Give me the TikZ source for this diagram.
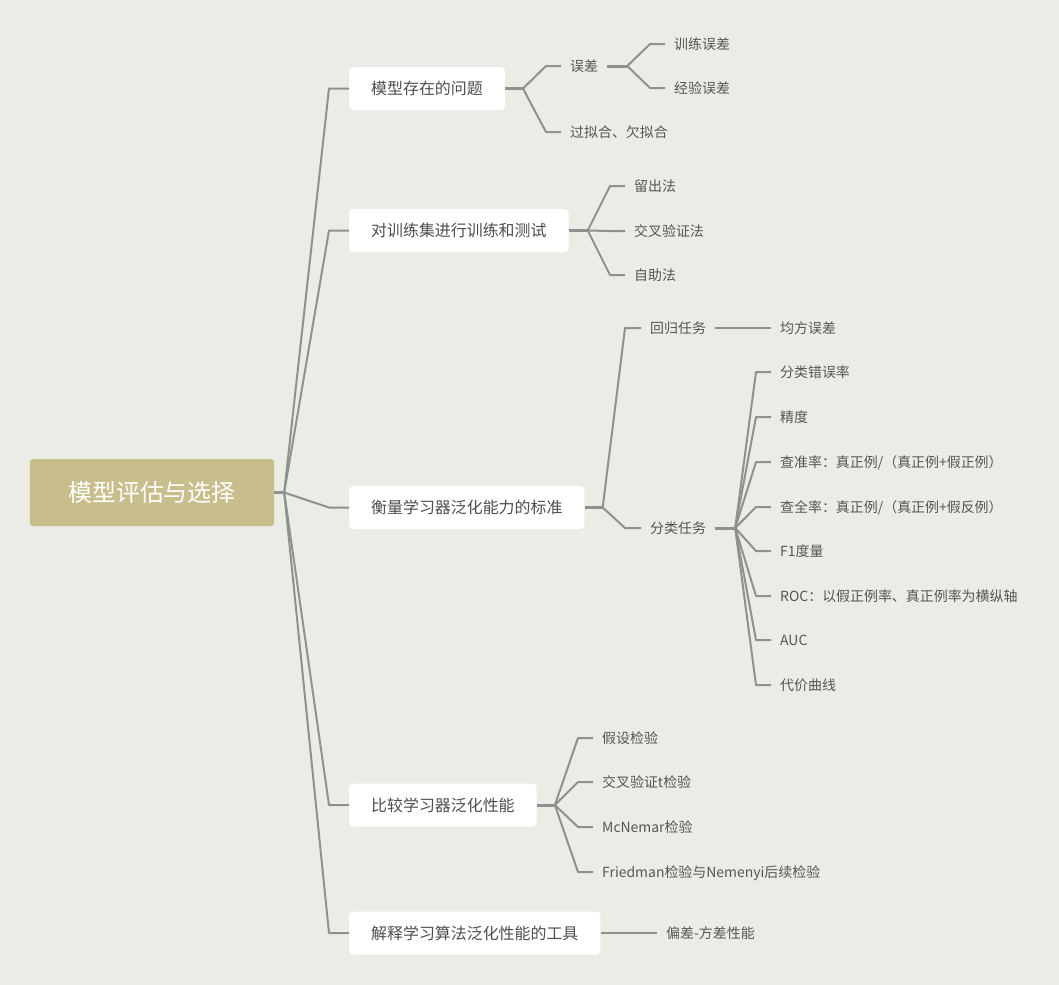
\documentclass[tikz,border=0pt]{standalone}
\usepackage{fontspec}
\setmainfont{Noto Sans CJK SC}
\usetikzlibrary{calc}
\definecolor{bg}{RGB}{236,236,230}
\definecolor{rootc}{RGB}{200,190,140}
\definecolor{lnc}{RGB}{142,146,142}
\definecolor{txc}{RGB}{78,78,78}
\definecolor{lfc}{RGB}{85,85,85}
\tikzset{
  rootbox/.style={fill=rootc, rounded corners=3bp, minimum width=244bp, minimum height=67bp,
    text=white, inner sep=0pt, font=\fontsize{24}{28}\selectfont, text height=21.1bp, text depth=2.9bp},
  mainbox/.style={fill=white, rounded corners=4bp, anchor=west, minimum height=43bp, inner xsep=22bp,
    inner ysep=0pt, text=txc, font=\fontsize{16}{19}\selectfont, text height=14.1bp, text depth=1.9bp},
  leaf/.style={anchor=west, inner xsep=9bp, inner ysep=1bp, text=lfc,
    font=\fontsize{14}{17}\selectfont, text height=12.3bp, text depth=1.7bp},
  stem/.style={draw=lnc, line width=3bp},
  twig/.style={draw=lnc, line width=2bp, line join=round},
}
\begin{document}
\begin{tikzpicture}[x=1bp, y=-1bp]
\fill[bg] (0,0) rectangle (1059,985);
\useasboundingbox (0,0) rectangle (1059,985);

% root
\node[rootbox] (root) at (152,492.5) {模型评估与选择};

% main boxes
\node[mainbox] (b1) at (349,88.5) {模型存在的问题};
\node[mainbox] (b2) at (349,230.5) {对训练集进行训练和测试};
\node[mainbox] (b3) at (349,507.5) {衡量学习器泛化能力的标准};
\node[mainbox] (b4) at (349,805) {比较学习器泛化性能};
\node[mainbox] (b5) at (349,933) {解释学习算法泛化性能的工具};

% leaves of b1
\node[leaf] (e1) at (561,66) {误差};
\node[leaf] (e2) at (561,132) {过拟合、欠拟合};
\node[leaf] (e11) at (665,44) {训练误差};
\node[leaf] (e12) at (665,88) {经验误差};

% leaves of b2
\node[leaf] (t1) at (625,186) {留出法};
\node[leaf] (t2) at (625,231) {交叉验证法};
\node[leaf] (t3) at (625,275) {自助法};

% leaves of b3
\node[leaf] (r1) at (641,328) {回归任务};
\node[leaf] (r2) at (641,528) {分类任务};
\node[leaf] (r11) at (771,328) {均方误差};
\node[leaf] (k1) at (771,372) {分类错误率};
\node[leaf] (k2) at (771,417) {精度};
\node[leaf] (k3) at (771,462) {查准率：真正例/（真正例+假正例）};
\node[leaf] (k4) at (771,507) {查全率：真正例/（真正例+假反例）};
\node[leaf] (k5) at (771,551) {F1度量};
\node[leaf] (k6) at (771,596) {ROC：以假正例率、真正例率为横纵轴};
\node[leaf] (k7) at (771,640) {AUC};
\node[leaf] (k8) at (771,685) {代价曲线};

% leaves of b4
\node[leaf] (m1) at (593,738) {假设检验};
\node[leaf] (m2) at (593,782) {交叉验证t检验};
\node[leaf] (m3) at (593,827) {McNemar检验};
\node[leaf] (m4) at (593,872) {Friedman检验与Nemenyi后续检验};

% leaf of b5
\node[leaf] (p1) at (657,933) {偏差-方差性能};

% connectors: root
\draw[stem] (root.east) -- ++(10,0) coordinate (rj);
\foreach \c in {b1,b2,b3,b4,b5}
  \draw[twig] (rj) -- ($(\c.west)+(-20,0)$) -- (\c.west);

% b1
\draw[stem] (b1.east) -- ++(18,0) coordinate (j1);
\foreach \c in {e1,e2}
  \draw[twig] (j1) -- ($(\c.west)+(-15,0)$) -- (\c.west);
\draw[stem] (e1.east) -- ++(20,0) coordinate (je);
\foreach \c in {e11,e12}
  \draw[twig] (je) -- ($(\c.west)+(-15,0)$) -- (\c.west);

% b2
\draw[stem] (b2.east) -- ++(19,0) coordinate (j2);
\foreach \c in {t1,t2,t3}
  \draw[twig] (j2) -- ($(\c.west)+(-15,0)$) -- (\c.west);

% b3
\draw[stem] (b3.east) -- ++(18,0) coordinate (j3);
\foreach \c in {r1,r2}
  \draw[twig] (j3) -- ($(\c.west)+(-16,0)$) -- (\c.west);
\draw[twig] (r1.east) -- (r11.west);
\draw[stem] (r2.east) -- ++(20,0) coordinate (jk);
\foreach \c in {k1,k2,k3,k4,k5,k6,k7,k8}
  \draw[twig] (jk) -- ($(\c.west)+(-15,0)$) -- (\c.west);

% b4
\draw[stem] (b4.east) -- ++(18,0) coordinate (j4);
\foreach \c in {m1,m2,m3,m4}
  \draw[twig] (j4) -- ($(\c.west)+(-15,0)$) -- (\c.west);

% b5
\draw[twig] (b5.east) -- (p1.west);
\end{tikzpicture}
\end{document}
